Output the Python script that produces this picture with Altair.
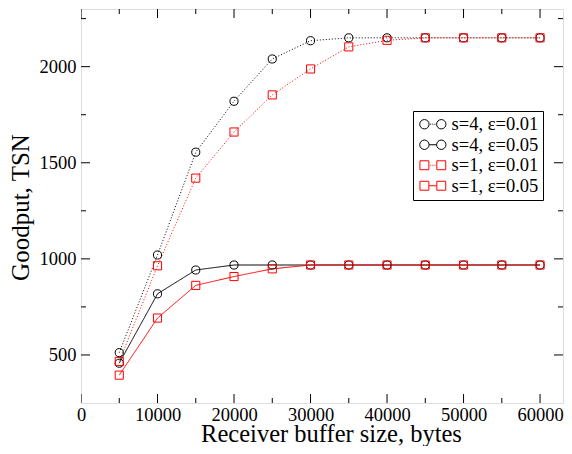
import altair as alt
import pandas as pd

# ---------------- data ----------------
buffer_sizes = [5000, 10000, 15000, 20000, 25000, 30000, 35000, 40000, 45000, 50000, 55000, 60000]
s4_e001 = [512, 1020, 1555, 1820, 2040, 2135, 2150, 2150, 2150, 2150, 2150, 2150]
s4_e005 = [457, 818, 942, 968, 968, 968, 968, 968, 968, 968, 968, 968]
s1_e001 = [466, 964, 1420, 1660, 1853, 1988, 2103, 2137, 2150, 2150, 2150, 2150]
s1_e005 = [395, 692, 862, 908, 948, 968, 968, 968, 968, 968, 968, 968]

series_names = ["s=4, ε=0.01", "s=4, ε=0.05", "s=1, ε=0.01", "s=1, ε=0.05"]
series_values = [s4_e001, s4_e005, s1_e001, s1_e005]

x_major = [0, 10000, 20000, 30000, 40000, 50000, 60000]
x_minor = [5000, 15000, 25000, 35000, 45000, 55000]
y_major = [500, 1000, 1500, 2000]
y_minor = [750, 1250, 1750, 2250]
x_domain = [0, 63000]
y_domain = [250, 2300]

# ---------------- tables ----------------
df = pd.DataFrame(
    [{"series": n, "x": b, "y": v} for n, vals in zip(series_names, series_values)
     for b, v in zip(buffer_sizes, vals)]
)

MAJOR, MINOR = 18, 10
xt = pd.DataFrame(
    [{"x": v, "y": yy, "len": MAJOR} for v in x_major for yy in y_domain]
    + [{"x": v, "y": yy, "len": MINOR} for v in x_minor for yy in y_domain]
)
yt = pd.DataFrame(
    [{"y": v, "x": xx, "len": MAJOR} for v in y_major for xx in x_domain]
    + [{"y": v, "x": xx, "len": MINOR} for v in y_minor for xx in x_domain]
)

# ---------------- styles ----------------
FONT = "Liberation Serif"
colors = ["black", "black", "red", "red"]
dashes = [[1, 2], [1, 0], [1, 2], [1, 0]]


def circ(cx, r=1.0):
    k = round(0.5523 * r, 4)
    return (f"M {cx + r} 0 C {cx + r} {k} {cx + k} {r} {cx} {r} "
            f"C {cx - k} {r} {cx - r} {k} {cx - r} 0 "
            f"C {cx - r} {-k} {cx - k} {-r} {cx} {-r} "
            f"C {cx + k} {-r} {cx + r} {-k} {cx + r} 0 Z")


def sq(cx, r=1.0):
    return f"M {cx - r} {-r} L {cx + r} {-r} L {cx + r} {r} L {cx - r} {r} Z"


C = 1.8
dotted = " ".join(f"M {round(c - 0.1, 3)} 0 L {round(c + 0.1, 3)} 0" for c in (-0.45, 0.0, 0.45))
solid = f"M {round(-C + 1, 3)} 0 L {round(C - 1, 3)} 0"
legend_paths = [
    circ(-C) + " " + circ(C) + " " + dotted,
    circ(-C) + " " + circ(C) + " " + solid,
    sq(-C, 0.95) + " " + sq(C, 0.95) + " " + dotted,
    sq(-C, 0.95) + " " + sq(C, 0.95) + " " + solid,
]

xs = alt.Scale(domain=x_domain, nice=False, zero=False)
ys = alt.Scale(domain=y_domain, nice=False, zero=False)
x_axis = alt.Axis(values=x_major, format="d", labelFont=FONT, labelFontSize=18.5,
                  labelColor="black", ticks=False, tickSize=0, domain=False, grid=False,
                  labelPadding=2, labelFlush=False,
                  title="Receiver buffer size, bytes", titleFont=FONT,
                  titleFontSize=24.5, titleFontWeight="normal", titleColor="black",
                  titleBaseline="alphabetic", titleAlign="center", titleX=250, titleY=38)
y_axis = alt.Axis(values=y_major, format="d", labelFont=FONT, labelFontSize=18.5,
                  labelColor="black", ticks=False, tickSize=0, domain=False, grid=False,
                  labelPadding=5, labelFlush=False,
                  title="Goodput, TSN", titleFont=FONT,
                  titleFontSize=25, titleFontWeight="normal", titleColor="black",
                  titleBaseline="alphabetic", titleAlign="center", titleAngle=270,
                  titleX=-53, titleY=198)
X = alt.X("x:Q", scale=xs, axis=x_axis)
Y = alt.Y("y:Q", scale=ys, axis=y_axis)

color_scale = alt.Scale(domain=series_names, range=colors)

lines = alt.Chart(df).mark_line(strokeWidth=1, opacity=1).encode(
    x=X, y=Y,
    color=alt.Color("series:N", scale=color_scale, legend=None),
    strokeDash=alt.StrokeDash("series:N", scale=alt.Scale(domain=series_names, range=dashes), legend=None),
)

points = alt.Chart(df).mark_point(filled=False, size=66, strokeWidth=1, opacity=1).encode(
    x=X, y=Y,
    color=alt.Color("series:N", scale=color_scale, legend=None),
    shape=alt.Shape("series:N", scale=alt.Scale(domain=series_names,
                    range=["circle", "circle", "square", "square"]), legend=None),
)

x_ticks = alt.Chart(xt).mark_tick(orient="vertical", clip=True, thickness=1, color="black", opacity=1).encode(
    x=X, y=Y, size=alt.Size("len:Q", scale=None)
)
y_ticks = alt.Chart(yt).mark_tick(orient="horizontal", clip=True, thickness=1, color="black", opacity=1).encode(
    x=X, y=Y, size=alt.Size("len:Q", scale=None)
)

leg = alt.Legend(title=None, orient="none", legendX=332, legendY=102, labelFont=FONT,
                 labelFontSize=18.5, labelColor="black", symbolStrokeWidth=1, symbolSize=88,
                 symbolOffset=6.6, labelOffset=9.5, rowPadding=1.5, padding=4,
                 strokeColor="black", fillColor="white")

legend_layer = alt.Chart(df).transform_filter("false").mark_point(
    filled=False, size=88, strokeWidth=1, opacity=1).encode(
    x=X, y=Y,
    color=alt.Color("series:N", scale=color_scale, legend=leg),
    shape=alt.Shape("series:N", scale=alt.Scale(domain=series_names, range=legend_paths), legend=leg),
)

chart = alt.layer(lines, points, x_ticks, y_ticks, legend_layer).resolve_scale(
    color="independent", shape="independent", strokeDash="independent"
).properties(
    width=482, height=394,
    autosize=alt.AutoSizeParams(type="none"),
    padding={"left": 73, "top": 1, "right": 1, "bottom": 43},
).configure_view(stroke="black", strokeWidth=2).configure(background="white")

chart.save("out.html", embed_options={"renderer": "svg", "actions": False})
